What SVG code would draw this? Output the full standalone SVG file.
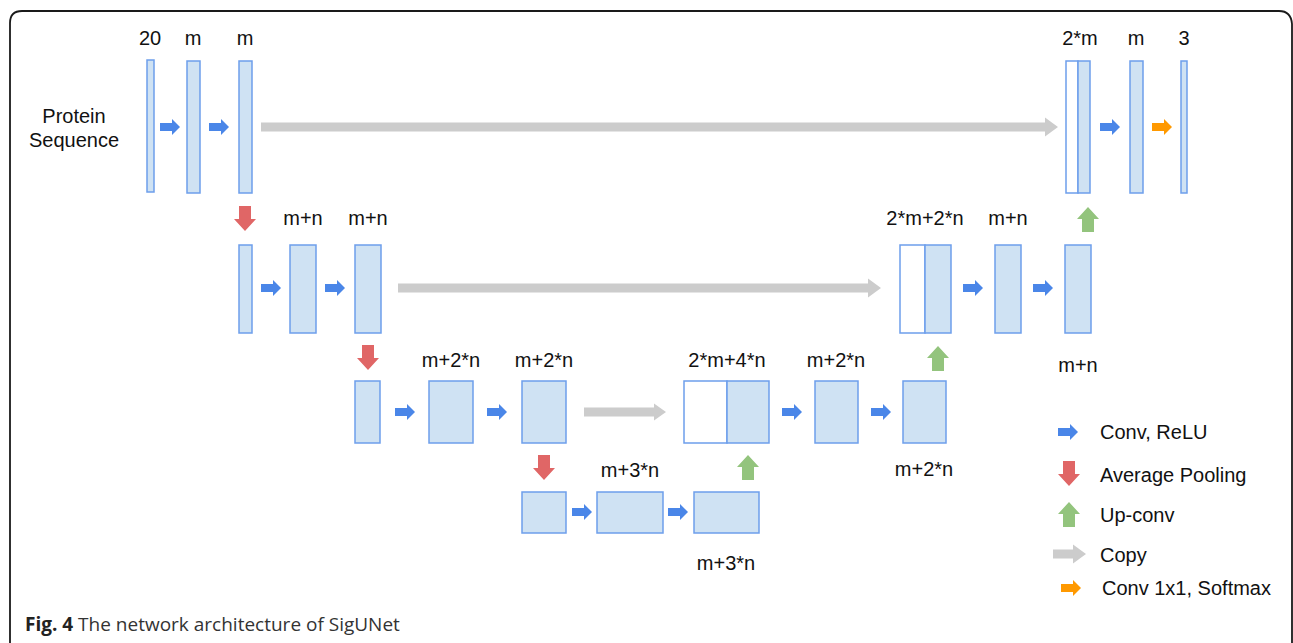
<svg xmlns="http://www.w3.org/2000/svg" width="1293" height="643" viewBox="0 0 1293 643">
  <defs>
    <style>
      .lbl { font-family: "Liberation Sans", Arial, sans-serif; font-size: 20px; fill: #111; text-anchor: middle; }
      .leg { font-family: "Liberation Sans", Arial, sans-serif; font-size: 20px; fill: #111; }
      .blk { fill: #cfe2f3; stroke: #6d9eeb; stroke-width: 1.5; }
      .wht { fill: #ffffff; stroke: #6d9eeb; stroke-width: 1.5; }
      .conv { fill: #4a86e8; }
      .pool { fill: #e06666; }
      .up { fill: #93c47d; }
      .copy { fill: #cccccc; }
      .soft { fill: #ff9900; }
    </style>
    <!-- right-pointing arrow, origin at left end on the centre line -->
    <path id="arR" d="M0,-4 H12 V-8 L20,0 L12,8 V4 H0 Z"/>
    <!-- downward arrow, origin at top centre -->
    <path id="arD" d="M-6,0 H6 V13 H11 L0,25 L-11,13 H-6 Z"/>
    <!-- upward arrow, origin at top centre -->
    <path id="arU" d="M-6,25 H6 V12 H11 L0,0 L-11,12 H-6 Z"/>
  </defs>

  <rect width="1293" height="643" fill="#ffffff"/>

  <!-- figure frame -->
  <path d="M10,643 L10,23 Q10,11 22,11 L1279,11 Q1291,11 1292,24 L1292,643" fill="none" stroke="#1a1a1a" stroke-width="1.8"/>

  <!-- input label -->
  <g id="input-label">
    <text class="lbl" x="74" y="123">Protein</text>
    <text class="lbl" x="74" y="147">Sequence</text>
  </g>

  <!-- level 1 -->
  <g id="l1-in"><rect class="blk" x="147" y="60" width="7" height="132"/><text class="lbl" x="150" y="45">20</text></g>
  <g id="l1-c1"><rect class="blk" x="187" y="61" width="13" height="132"/><text class="lbl" x="193" y="45">m</text></g>
  <g id="l1-c2"><rect class="blk" x="239" y="61" width="13" height="132"/><text class="lbl" x="245" y="45">m</text></g>
  <g id="l1-cat"><rect class="wht" x="1066" y="61" width="12" height="132"/><rect class="blk" x="1078" y="61" width="12" height="132"/><text class="lbl" x="1080" y="45">2*m</text></g>
  <g id="l1-c3"><rect class="blk" x="1130" y="61" width="13" height="132"/><text class="lbl" x="1136" y="45">m</text></g>
  <g id="l1-out"><rect class="blk" x="1181" y="61" width="6" height="132"/><text class="lbl" x="1184" y="45">3</text></g>

  <!-- level 2 -->
  <g id="l2-in"><rect class="blk" x="239" y="245" width="13" height="88"/></g>
  <g id="l2-c1"><rect class="blk" x="290" y="245" width="26" height="88"/><text class="lbl" x="303" y="225">m+n</text></g>
  <g id="l2-c2"><rect class="blk" x="355" y="245" width="26" height="88"/><text class="lbl" x="368" y="225">m+n</text></g>
  <g id="l2-cat"><rect class="wht" x="900" y="245" width="25" height="88"/><rect class="blk" x="925" y="245" width="26" height="88"/><text class="lbl" x="925" y="225">2*m+2*n</text></g>
  <g id="l2-c3"><rect class="blk" x="995" y="245" width="26" height="88"/><text class="lbl" x="1008" y="225">m+n</text></g>
  <g id="l2-c4"><rect class="blk" x="1065" y="245" width="26" height="88"/><text class="lbl" x="1078" y="372">m+n</text></g>

  <!-- level 3 -->
  <g id="l3-in"><rect class="blk" x="355" y="381" width="25" height="62"/></g>
  <g id="l3-c1"><rect class="blk" x="429" y="381" width="44" height="62"/><text class="lbl" x="451" y="367">m+2*n</text></g>
  <g id="l3-c2"><rect class="blk" x="522" y="381" width="44" height="62"/><text class="lbl" x="544" y="367">m+2*n</text></g>
  <g id="l3-cat"><rect class="wht" x="684" y="381" width="43" height="62"/><rect class="blk" x="727" y="381" width="42" height="62"/><text class="lbl" x="727" y="367">2*m+4*n</text></g>
  <g id="l3-c3"><rect class="blk" x="815" y="381" width="43" height="62"/><text class="lbl" x="836" y="367">m+2*n</text></g>
  <g id="l3-c4"><rect class="blk" x="903" y="381" width="43" height="62"/><text class="lbl" x="924" y="476">m+2*n</text></g>

  <!-- level 4 -->
  <g id="l4-in"><rect class="blk" x="522" y="492" width="44" height="41"/></g>
  <g id="l4-c1"><rect class="blk" x="597" y="492" width="66" height="41"/><text class="lbl" x="630" y="477">m+3*n</text></g>
  <g id="l4-c2"><rect class="blk" x="694" y="492" width="65" height="41"/><text class="lbl" x="726" y="570">m+3*n</text></g>

  <!-- connectors -->
  <g id="connectors">
    <use href="#arR" class="conv" transform="translate(160,127)"/>
    <use href="#arR" class="conv" transform="translate(209,127)"/>
    <use href="#arR" class="conv" transform="translate(1100,127)"/>
    <use href="#arR" class="soft" transform="translate(1152,127)"/>

    <use href="#arR" class="conv" transform="translate(261,288)"/>
    <use href="#arR" class="conv" transform="translate(325,288)"/>
    <use href="#arR" class="conv" transform="translate(963,288)"/>
    <use href="#arR" class="conv" transform="translate(1033,288)"/>

    <use href="#arR" class="conv" transform="translate(395,412)"/>
    <use href="#arR" class="conv" transform="translate(487,412)"/>
    <use href="#arR" class="conv" transform="translate(782,412)"/>
    <use href="#arR" class="conv" transform="translate(871,412)"/>

    <use href="#arR" class="conv" transform="translate(572,512)"/>
    <use href="#arR" class="conv" transform="translate(668,512)"/>

    <use href="#arD" class="pool" transform="translate(245,206)"/>
    <use href="#arD" class="pool" transform="translate(368,345)"/>
    <use href="#arD" class="pool" transform="translate(544,455)"/>

    <use href="#arU" class="up" transform="translate(1088,207)"/>
    <use href="#arU" class="up" transform="translate(938,346)"/>
    <use href="#arU" class="up" transform="translate(748,455)"/>

    <!-- skip connections -->
    <path class="copy" d="M261,122.5 H1045 V117.5 L1058,127 L1045,136.5 V131.5 H261 Z"/>
    <path class="copy" d="M398,283.5 H868 V278.5 L881,288 L868,297.5 V292.5 H398 Z"/>
    <path class="copy" d="M584,407.5 H654 V403.5 L666,412 L654,420.5 V416.5 H584 Z"/>
  </g>

  <!-- legend -->
  <g id="legend">
    <use href="#arR" class="conv" transform="translate(1058,432)"/>
    <text class="leg" x="1100" y="439">Conv, ReLU</text>
    <use href="#arD" class="pool" transform="translate(1069,461)"/>
    <text class="leg" x="1100" y="482">Average Pooling</text>
    <use href="#arU" class="up" transform="translate(1069,502)"/>
    <text class="leg" x="1100" y="522">Up-conv</text>
    <path class="copy" d="M1053,549.5 H1073 V544.5 L1086,554 L1073,563.5 V558.5 H1053 Z"/>
    <text class="leg" x="1100" y="562">Copy</text>
    <use href="#arR" class="soft" transform="translate(1061,588)"/>
    <text class="leg" x="1102" y="595">Conv 1x1, Softmax</text>
  </g>

  <!-- caption -->
  <g id="caption">
    <text x="25" y="631" font-family="'Open Sans', 'Noto Sans', sans-serif" font-size="19" fill="#333"><tspan font-weight="bold" fill="#222">Fig. 4</tspan> The network architecture of SigUNet</text>
  </g>
</svg>
